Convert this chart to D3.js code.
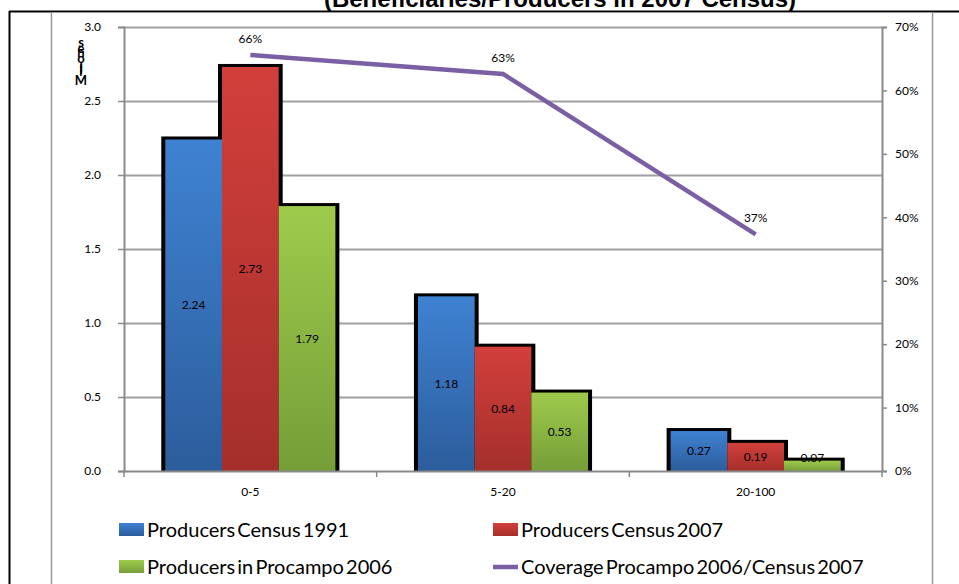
<!DOCTYPE html>
<html><head><meta charset="utf-8">
<script src="https://cdn.jsdelivr.net/npm/d3@7"></script>
<style>
html,body{margin:0;padding:0;background:#fff;}
svg{display:block;font-family:Lato,"Open Sans",sans-serif;}
</style></head>
<body>
<svg id="c" width="959" height="584"></svg>
<script>
const categories = ["0-5", "5-20", "20-100"];
const seriesNames = ["Producers Census 1991", "Producers Census 2007", "Producers in Procampo 2006"];
const census1991 = [2.24, 1.18, 0.27];
const census2007 = [2.73, 0.84, 0.19];
const procampo2006 = [1.79, 0.53, 0.07];
const coverage = [0.656, 0.626, 0.373];
const lineName = "Coverage Procampo 2006/Census 2007";
const leftTicks = [0, 0.5, 1.0, 1.5, 2.0, 2.5, 3.0];
const rightTicks = [0, 0.1, 0.2, 0.3, 0.4, 0.5, 0.6, 0.7];
const titleText = "(Beneficiaries/Producers in 2007 Census)";
const yTitle = "Millones";

const colors = [["#3f82d2","#2c5d9c"],["#d23f3b","#a52f2b"],["#9ecb4c","#759e38"]];
const lineColor = "#7b5fa5";
const axisColor = "#8a8a8a";

const svg = d3.select("#c");
const defs = svg.append("defs");
colors.forEach((c,i)=>{
  const g = defs.append("linearGradient").attr("id","g"+i).attr("x1",0).attr("y1",0).attr("x2",0).attr("y2",1);
  g.append("stop").attr("offset","0%").attr("stop-color",c[0]);
  g.append("stop").attr("offset","100%").attr("stop-color",c[1]);
});

// frame
svg.append("line").attr("x1",9).attr("x2",959).attr("y1",11.5).attr("y2",11.5).attr("stroke","#000").attr("stroke-width",2);
svg.append("line").attr("x1",9.5).attr("x2",9.5).attr("y1",11).attr("y2",584).attr("stroke","#000").attr("stroke-width",2);
svg.append("line").attr("x1",51.5).attr("x2",51.5).attr("y1",12).attr("y2",584).attr("stroke","#9a9a9a").attr("stroke-width",1.5);
svg.append("line").attr("x1",932.5).attr("x2",932.5).attr("y1",12).attr("y2",584).attr("stroke","#9a9a9a").attr("stroke-width",1.5);
svg.append("line").attr("x1",51).attr("x2",933).attr("y1",12.5).attr("y2",12.5).attr("stroke","#9a9a9a").attr("stroke-width",1);

// title (cut off at top)
svg.append("text").attr("x",560).attr("y",7).attr("text-anchor","middle")
  .attr("font-family","Liberation Sans, Arial, sans-serif").attr("font-weight","bold").attr("font-size",24)
  .attr("fill","#000").text(titleText);

const L = 124, R = 882, T = 27, B = 471;
const x = d3.scaleBand().domain(categories).range([L, R]).padding(0);
const xi = d3.scaleBand().domain(d3.range(3)).range([0, x.bandwidth()]).paddingInner(0).paddingOuter(0.728);
const y = d3.scaleLinear().domain([0, 3]).range([B, T]);
const y2 = d3.scaleLinear().domain([0, 0.7]).range([B, T]);

// gridlines
svg.append("g").selectAll("line").data(leftTicks.filter(d=>d>0)).join("line")
  .attr("x1",L).attr("x2",R).attr("y1",d=>Math.round(y(d))+0.5).attr("y2",d=>Math.round(y(d))+0.5)
  .attr("stroke","#a0a0a0").attr("stroke-width",2);

// left axis
const gl = svg.append("g").attr("transform",`translate(${L},0)`)
  .call(d3.axisLeft(y).tickValues(leftTicks).tickFormat(d3.format(".1f")).tickSize(6).tickPadding(17));
gl.select(".domain").attr("stroke",axisColor).attr("stroke-width",2);
gl.selectAll(".tick line").attr("stroke",axisColor).attr("stroke-width",1.5);
gl.selectAll("text").attr("font-family","Lato, sans-serif").attr("font-size",12).attr("fill","#000");

// right axis
const gr = svg.append("g").attr("transform",`translate(${R},0)`)
  .call(d3.axisRight(y2).tickValues(rightTicks).tickFormat(d3.format(".0%")).tickSize(5).tickPadding(8));
gr.select(".domain").attr("stroke",axisColor).attr("stroke-width",2);
gr.selectAll(".tick line").attr("stroke",axisColor).attr("stroke-width",1.5);
gr.selectAll("text").attr("font-family","Lato, sans-serif").attr("font-size",12).attr("fill","#000");

// bars data
const data = [census1991, census2007, procampo2006];
const bars = [];
categories.forEach((c,ci)=>{
  data.forEach((s,si)=>{ bars.push({c, si, v:s[ci]}); });
});
// shadows
svg.append("g").selectAll("rect").data(bars).join("rect")
  .attr("x",d=>x(d.c)+xi(d.si)-4).attr("y",d=>y(d.v)-3)
  .attr("width",xi.bandwidth()+8).attr("height",d=>B-y(d.v)+3)
  .attr("fill","#000");
svg.append("g").selectAll("rect").data(bars).join("rect")
  .attr("x",d=>x(d.c)+xi(d.si)).attr("y",d=>y(d.v))
  .attr("width",xi.bandwidth()).attr("height",d=>B-y(d.v))
  .attr("fill",d=>`url(#g${d.si})`);

// bottom axis
const gb = svg.append("g").attr("transform",`translate(0,${B})`)
  .call(d3.axisBottom(x).tickSize(0).tickPadding(16));
gb.select(".domain").attr("stroke",axisColor).attr("stroke-width",2);
gb.selectAll("text").attr("font-family","Lato, sans-serif").attr("font-size",12).attr("fill","#000");
svg.append("g").selectAll("line").data(d3.range(categories.length+1)).join("line")
  .attr("x1",i=>L+i*x.step()).attr("x2",i=>L+i*x.step()).attr("y1",B).attr("y2",B+6)
  .attr("stroke",axisColor).attr("stroke-width",1.5);

// bar labels
svg.append("g").selectAll("text").data(bars).join("text")
  .attr("x",d=>x(d.c)+xi(d.si)+xi.bandwidth()/2)
  .attr("y",d=>Math.min((y(d.v)+B)/2, B-13)+4)
  .attr("text-anchor","middle").attr("font-size",12).attr("fill","#000")
  .text(d=>d3.format(".2f")(d.v));

// line
const pts = categories.map((c,i)=>({c, v:coverage[i]}));
svg.append("path").datum(pts)
  .attr("d", d3.line().x(d=>x(d.c)+x.bandwidth()/2).y(d=>y2(d.v)))
  .attr("fill","none").attr("stroke",lineColor).attr("stroke-width",4.5);
svg.append("g").selectAll("text").data(pts).join("text")
  .attr("x",d=>x(d.c)+x.bandwidth()/2).attr("y",d=>y2(d.v)-12)
  .attr("text-anchor","middle").attr("font-size",12).attr("fill","#000")
  .text(d=>d3.format(".0%")(d.v));

// y title (stacked letters, as in the reference)
const letters = yTitle.split("");
const offs = [0, -9, -11, -13, -22, -28, -32, -38];
svg.append("g").selectAll("text").data(letters).join("text")
  .attr("x",81).attr("y",(d,i)=>85+offs[i]).attr("text-anchor","middle")
  .attr("font-size",13).attr("font-weight","bold").attr("fill","#000").text(d=>d);

// legend
const legend = [
  {name:seriesNames[0], type:"bar", i:0, x:119, y:530},
  {name:seriesNames[1], type:"bar", i:1, x:493, y:530},
  {name:seriesNames[2], type:"bar", i:2, x:119, y:567},
  {name:lineName, type:"line", x:493, y:567}
];
const lg = svg.append("g").selectAll("g").data(legend).join("g").attr("transform",d=>`translate(${d.x},${d.y})`);
lg.filter(d=>d.type==="bar").append("rect").attr("x",0).attr("y",-7).attr("width",25).attr("height",13)
  .attr("fill",d=>`url(#g${d.i})`);
lg.filter(d=>d.type==="line").append("line").attr("x1",0).attr("x2",25).attr("y1",0).attr("y2",0)
  .attr("stroke",lineColor).attr("stroke-width",4.5);
lg.append("text").attr("x",28).attr("y",7).attr("font-size",20).attr("fill","#000")
  .attr("word-spacing",-3).text(d=>d.name);
</script>
</body></html>
